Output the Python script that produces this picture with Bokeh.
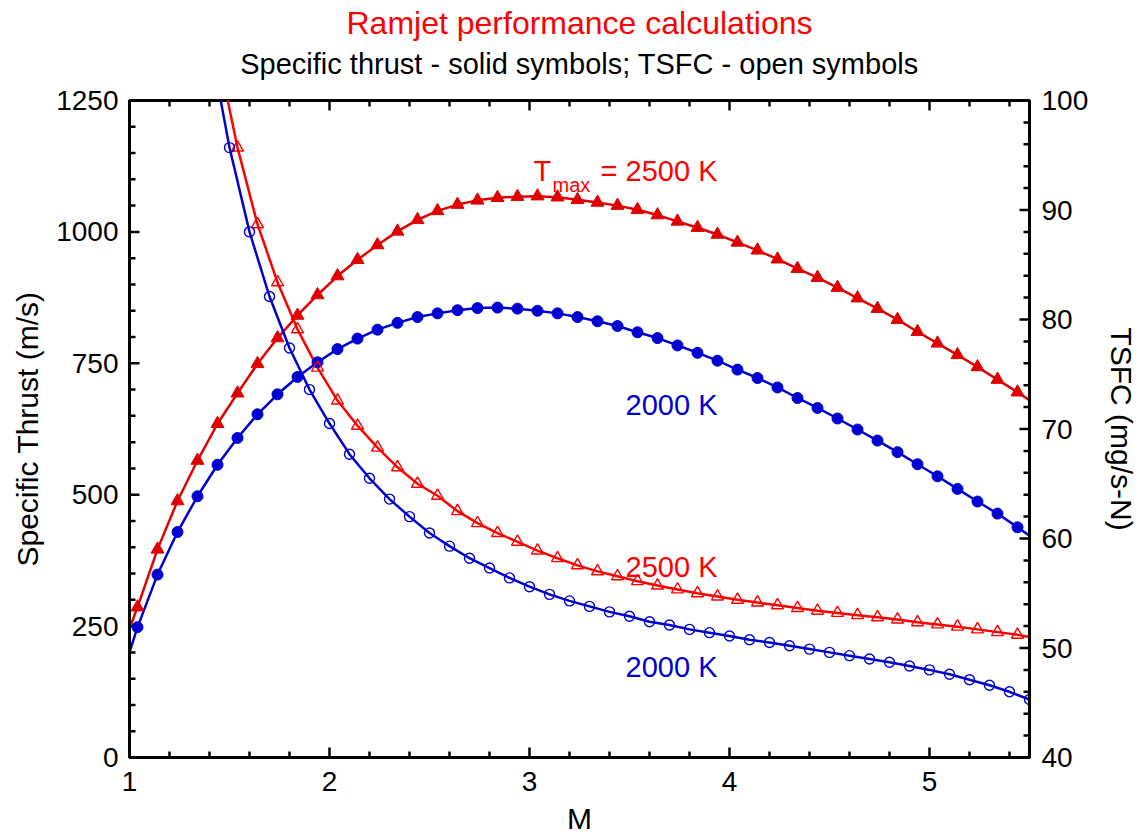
from bokeh.plotting import figure
from bokeh.models import LinearAxis, Range1d, SingleIntervalTicker, Title, Label
from bokeh.embed import file_html
from bokeh.resources import INLINE

# ---------------- data ----------------
# Mach numbers of the solid symbols
M_solid = [1.04, 1.14, 1.24, 1.34, 1.44, 1.54, 1.64, 1.74, 1.84, 1.94,
           2.04, 2.14, 2.24, 2.34, 2.44, 2.54, 2.64, 2.74, 2.84, 2.94,
           3.04, 3.14, 3.24, 3.34, 3.44, 3.54, 3.64, 3.74, 3.84, 3.94,
           4.04, 4.14, 4.24, 4.34, 4.44, 4.54, 4.64, 4.74, 4.84, 4.94,
           5.04, 5.14, 5.24, 5.34, 5.44]

# Specific thrust (m/s), Tmax = 2500 K (solid triangles)
thrust_2500 = [286, 396, 488, 565, 635, 693, 749, 798, 841, 880,
               916, 947, 975, 1001, 1023, 1040, 1052, 1060, 1065, 1067,
               1068, 1066, 1061, 1056, 1050, 1042, 1032, 1020, 1008, 995,
               980, 965, 948, 930, 913, 894, 874, 854, 833, 810,
               788, 766, 743, 719, 695]
# Specific thrust (m/s), Tmax = 2000 K (solid circles)
thrust_2000 = [248, 348, 429, 497, 557, 608, 653, 691, 724, 752,
               777, 797, 814, 827, 838, 845, 851, 855, 856, 854,
               850, 845, 838, 830, 821, 809, 798, 784, 770, 755,
               738, 722, 704, 684, 665, 645, 624, 603, 581, 558,
               535, 511, 487, 464, 438]
# curve ends (M = 1.0 and M = 5.5)
thrust_ends_M = [1.0, 5.5]
thrust_2500_ends = [245, 680]
thrust_2000_ends = [200, 422]

# TSFC (mg/s-N), Tmax = 2500 K (open triangles)
M_tsfc_2500 = [1.54, 1.64, 1.74, 1.84, 1.94,
               2.04, 2.14, 2.24, 2.34, 2.44, 2.54, 2.64, 2.74, 2.84, 2.94,
               3.04, 3.14, 3.24, 3.34, 3.44, 3.54, 3.64, 3.74, 3.84, 3.94,
               4.04, 4.14, 4.24, 4.34, 4.44, 4.54, 4.64, 4.74, 4.84, 4.94,
               5.04, 5.14, 5.24, 5.34, 5.44]
tsfc_2500 = [95.7, 88.7, 83.4, 79.1, 75.6,
             72.6, 70.3, 68.3, 66.5, 65.0, 63.9, 62.5, 61.4, 60.5, 59.7,
             58.9, 58.2, 57.55, 57.0, 56.55, 56.1, 55.7, 55.35, 55.0, 54.7,
             54.4, 54.15, 53.9, 53.65, 53.4, 53.2, 53.0, 52.8, 52.6, 52.35,
             52.15, 51.95, 51.7, 51.45, 51.2]
tsfc_2500_ends_M = [1.44, 5.5]
tsfc_2500_ends = [104.5, 51.0]

# TSFC (mg/s-N), Tmax = 2000 K (open circles)
M_tsfc_2000 = [1.5, 1.6, 1.7, 1.8, 1.9, 2.0, 2.1, 2.2, 2.3, 2.4,
               2.5, 2.6, 2.7, 2.8, 2.9, 3.0, 3.1, 3.2, 3.3, 3.4,
               3.5, 3.6, 3.7, 3.8, 3.9, 4.0, 4.1, 4.2, 4.3, 4.4,
               4.5, 4.6, 4.7, 4.8, 4.9, 5.0, 5.1, 5.2, 5.3, 5.4, 5.5]
tsfc_2000 = [95.7, 88.0, 82.1, 77.4, 73.6, 70.5, 67.7, 65.5, 63.6, 62.0,
             60.5, 59.3, 58.2, 57.3, 56.4, 55.6, 54.9, 54.3, 53.8, 53.3,
             52.9, 52.4, 52.1, 51.7, 51.4, 51.1, 50.75, 50.5, 50.2, 49.9,
             49.6, 49.3, 49.0, 48.7, 48.35, 48.0, 47.6, 47.1, 46.6, 46.0, 45.3]
tsfc_2000_start_M = [1.4]
tsfc_2000_start = [105.5]

# axis ranges and tick positions
x_lim = [1.0, 5.5]
thrust_lim = [0, 1250]
tsfc_lim = [40, 100]
x_major = [1, 2, 3, 4, 5]
x_minor = [1.2, 1.4, 1.6, 1.8, 2.2, 2.4, 2.6, 2.8, 3.2, 3.4, 3.6, 3.8,
           4.2, 4.4, 4.6, 4.8, 5.2, 5.4]
thrust_major = [0, 250, 500, 750, 1000, 1250]
thrust_minor = [50, 100, 150, 200, 300, 350, 400, 450, 550, 600, 650, 700,
                800, 850, 900, 950, 1050, 1100, 1150, 1200]
tsfc_major = [40, 50, 60, 70, 80, 90, 100]
tsfc_minor = [42, 44, 46, 48, 52, 54, 56, 58, 62, 64, 66, 68, 72, 74, 76, 78,
              82, 84, 86, 88, 92, 94, 96, 98]

TITLE = "Ramjet performance calculations"
SUBTITLE = "Specific thrust - solid symbols; TSFC - open symbols"

# ---------------- styling ----------------
RED = "#ff0000"
RED_D = "#e00000"
BLUE = "#0000d0"
FONT = "Liberation Sans"
FRAME_W, FRAME_H = 900, 657
MAJOR_LEN, MINOR_LEN = 10, 6   # tick lengths, px

p = figure(frame_width=FRAME_W, frame_height=FRAME_H,
           x_range=Range1d(*x_lim), y_range=Range1d(*thrust_lim),
           output_backend="svg", toolbar_location=None, title=None,
           x_axis_location=None, y_axis_location=None,
           min_border_left=129, min_border_right=108,
           min_border_top=100, min_border_bottom=0)
p.extra_y_ranges = {"tsfc": Range1d(*tsfc_lim)}
p.grid.visible = False
p.outline_line_color = "black"
p.outline_line_width = 3
p.background_fill_color = "white"
p.border_fill_color = "white"

dx = (x_lim[1] - x_lim[0]) / FRAME_W          # M per px
dy = (thrust_lim[1] - thrust_lim[0]) / FRAME_H  # m/s per px


def style_axis(ax):
    ax.axis_line_width = 3
    ax.axis_line_color = "black"
    ax.major_tick_in = 0
    ax.major_tick_out = 0
    ax.minor_tick_in = 0
    ax.minor_tick_out = 0
    ax.major_tick_line_color = None
    ax.minor_tick_line_color = None
    ax.major_label_text_font = FONT
    ax.major_label_text_font_size = "28px"
    ax.major_label_text_color = "black"
    ax.axis_label_text_font = FONT
    ax.axis_label_text_font_size = "30px"
    ax.axis_label_text_font_style = "normal"
    ax.axis_label_text_color = "black"


bottom = LinearAxis(ticker=SingleIntervalTicker(interval=1, num_minor_ticks=5),
                    axis_label="M")
style_axis(bottom)
bottom.major_label_standoff = 14
bottom.axis_label_standoff = 8

left = LinearAxis(ticker=SingleIntervalTicker(interval=250, num_minor_ticks=5),
                  axis_label="Specific Thrust (m/s)")
style_axis(left)
left.major_label_standoff = 11
left.axis_label_standoff = 9

right = LinearAxis(y_range_name="tsfc",
                   ticker=SingleIntervalTicker(interval=10, num_minor_ticks=5),
                   axis_label="TSFC (mg/s-N)")
style_axis(right)
right.major_label_standoff = 12
right.axis_label_standoff = 14

p.add_layout(bottom, "below")
p.add_layout(left, "left")
p.add_layout(right, "right")

sub = Title(text=SUBTITLE, align="center", text_font=FONT,
            text_font_size="29px", text_font_style="normal",
            text_color="black", standoff=41.6)
main = Title(text=TITLE, align="center", text_font=FONT,
             text_font_size="32px", text_font_style="normal",
             text_color=RED, standoff=-33.8)
p.add_layout(sub, "above")
p.add_layout(main, "above")

# ---------------- inward ticks on all four sides ----------------
def xticks(vals, length):
    n = len(vals)
    p.segment(x0=vals, y0=[thrust_lim[0]] * n, x1=vals,
              y1=[thrust_lim[0] + length * dy] * n,
              line_color="black", line_width=2.5)
    p.segment(x0=vals, y0=[thrust_lim[1]] * n, x1=vals,
              y1=[thrust_lim[1] - length * dy] * n,
              line_color="black", line_width=2.5)


xticks(x_major, MAJOR_LEN)
xticks(x_minor, MINOR_LEN)


def yticks(vals, length, side_x, sign, name):
    n = len(vals)
    kw = {} if name is None else {"y_range_name": name}
    p.segment(x0=[side_x] * n, y0=vals, x1=[side_x + sign * length * dx] * n,
              y1=vals, line_color="black", line_width=2.5, **kw)


yticks(thrust_major, MAJOR_LEN, x_lim[0], 1, None)
yticks(thrust_minor, MINOR_LEN, x_lim[0], 1, None)
yticks(tsfc_major, MAJOR_LEN, x_lim[1], -1, "tsfc")
yticks(tsfc_minor, MINOR_LEN, x_lim[1], -1, "tsfc")

# ---------------- curves ----------------
p.line([thrust_ends_M[0]] + M_solid + [thrust_ends_M[1]],
       [thrust_2500_ends[0]] + thrust_2500 + [thrust_2500_ends[1]],
       line_color=RED_D, line_width=2.5)
p.line([thrust_ends_M[0]] + M_solid + [thrust_ends_M[1]],
       [thrust_2000_ends[0]] + thrust_2000 + [thrust_2000_ends[1]],
       line_color=BLUE, line_width=2.5)
p.line([tsfc_2500_ends_M[0]] + M_tsfc_2500 + [tsfc_2500_ends_M[1]],
       [tsfc_2500_ends[0]] + tsfc_2500 + [tsfc_2500_ends[1]],
       line_color=RED, line_width=2.5, y_range_name="tsfc")
p.line(tsfc_2000_start_M + M_tsfc_2000,
       tsfc_2000_start + tsfc_2000,
       line_color=BLUE, line_width=2.5, y_range_name="tsfc")

p.scatter(M_solid, thrust_2500, marker="triangle", size=13,
          fill_color=RED_D, line_color=RED_D)
p.scatter(M_solid, thrust_2000, marker="circle", size=11,
          fill_color=BLUE, line_color=BLUE)
p.scatter(M_tsfc_2500, tsfc_2500, marker="triangle", size=12,
          fill_color=None, line_color=RED, line_width=1.4, y_range_name="tsfc")
p.scatter(M_tsfc_2000, tsfc_2000, marker="circle", size=10,
          fill_color=None, line_color=BLUE, line_width=1.4, y_range_name="tsfc")

# ---------------- annotations ----------------
def add_label(x, y, text, color, size="29px", align="left"):
    p.add_layout(Label(x=x, y=y, text=text, text_color=color, text_font=FONT,
                       text_font_size=size, text_align=align,
                       text_baseline="alphabetic"))


add_label(3.02, 1115, "T", RED)
add_label(3.115, 1090, "max", RED, size="20px")
add_label(3.94, 1115, "= 2500 K", RED, align="right")
add_label(3.94, 670, "2000 K", BLUE, align="right")
add_label(3.94, 362, "2500 K", RED, align="right")
add_label(3.94, 172, "2000 K", BLUE, align="right")

open("out.html", "w").write(file_html(p, INLINE))
